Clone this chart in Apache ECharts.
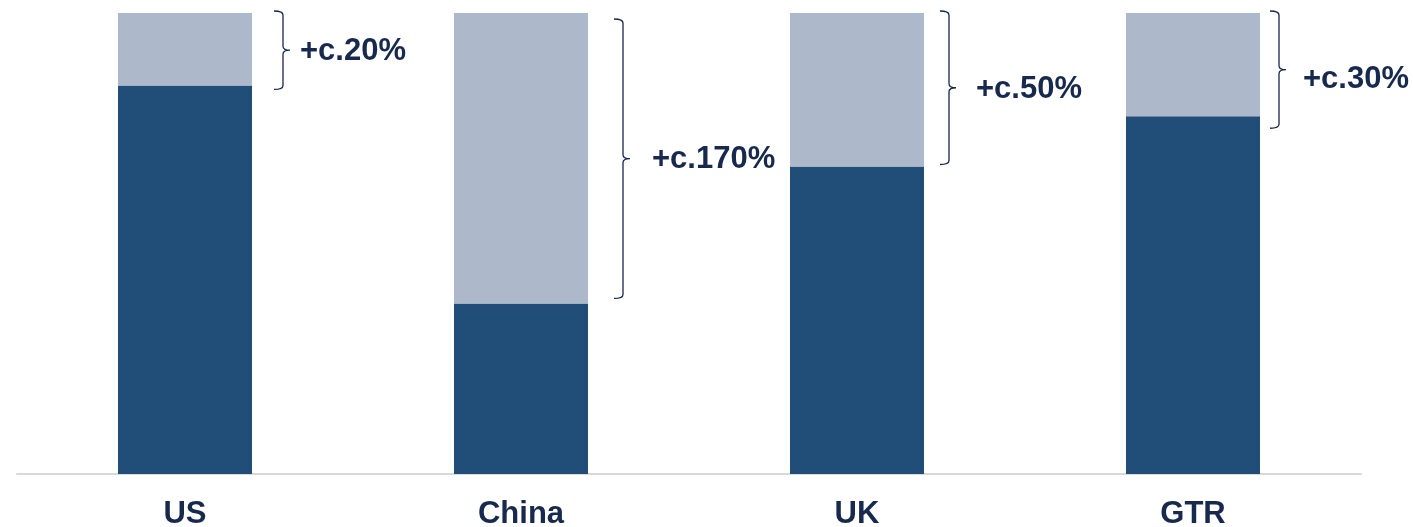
<!DOCTYPE html>
<html>
<head>
<meta charset="utf-8" />
<title>Uplift by market</title>
<script src="https://cdn.jsdelivr.net/npm/echarts@6/dist/echarts.min.js"></script>
<style>
  html, body { margin: 0; padding: 0; background: #fff; }
  #chart { width: 1413px; height: 527px; }
</style>
</head>
<body>
<div id="chart"></div>
<script>
// data
var categories = ['US', 'China', 'UK', 'GTR'];
var baseValues = [84.3, 37.0, 66.7, 77.6];
var upliftValues = [15.7, 63.0, 33.3, 22.4];
var upliftLabels = ['+c.20%', '+c.170%', '+c.50%', '+c.30%'];

var DARK = '#204E78';
var LIGHT = '#ADB9CA';
var INK = '#17294D';
var FONT = 'Liberation Sans, Arial, sans-serif';

// hand-placed braces: offset from bar centre, small top/bottom nudges (px),
// label offset from the brace line
var braceDx = [98, 102, 92, 86];
var braceTopDy = [-2, 6, -2, -2];
var braceBotDy = [4, -5, -2, 12];
var labelDx = [17, 29, 27, 24];
var labelDy = [0, 0, 1, 9];

var chart = echarts.init(document.getElementById('chart'));

var braceData = categories.map(function (c, i) {
  return [i, baseValues[i] + upliftValues[i], baseValues[i]];
});

function renderBrace(params, api) {
  var i = api.value(0);
  var top = api.coord([i, api.value(1)]);
  var bot = api.coord([i, api.value(2)]);
  var x = top[0] + braceDx[i];
  var y0 = top[1] + braceTopDy[i];
  var y1 = bot[1] + braceBotDy[i];
  var mid = (y0 + y1) / 2;
  var arm = 9, tip = 7, r = 4;
  var d = 'M' + (x - arm) + ' ' + y0 +
    ' Q' + x + ' ' + y0 + ' ' + x + ' ' + (y0 + r) +
    ' L' + x + ' ' + (mid - r) +
    ' Q' + x + ' ' + mid + ' ' + (x + tip) + ' ' + mid +
    ' M' + (x + tip) + ' ' + mid +
    ' Q' + x + ' ' + mid + ' ' + x + ' ' + (mid + r) +
    ' L' + x + ' ' + (y1 - r) +
    ' Q' + x + ' ' + y1 + ' ' + (x - arm) + ' ' + y1;
  return {
    type: 'group',
    children: [{
      type: 'path',
      shape: { pathData: d },
      style: { stroke: INK, fill: null, lineWidth: 1.3 }
    }, {
      type: 'text',
      style: {
        text: upliftLabels[i],
        x: x + labelDx[i],
        y: mid + 1 + labelDy[i],
        fill: INK,
        fontSize: 31,
        fontWeight: 'bold',
        fontFamily: FONT,
        align: 'left',
        verticalAlign: 'middle'
      }
    }]
  };
}

chart.setOption({
  backgroundColor: '#fff',
  animation: false,
  grid: { left: 17, right: 52, top: 13, bottom: 53, outerBoundsMode: 'none' },
  xAxis: {
    type: 'category',
    data: categories,
    axisLine: { lineStyle: { color: '#D9D9D9', width: 2 } },
    axisTick: { show: false },
    axisLabel: {
      color: INK,
      fontSize: 31,
      fontWeight: 'bold',
      fontFamily: FONT,
      margin: 25
    }
  },
  yAxis: {
    type: 'value',
    min: 0,
    max: 100,
    show: false,
    splitLine: { show: false }
  },
  series: [{
    type: 'bar',
    stack: 'total',
    barWidth: 134,
    itemStyle: { color: DARK },
    data: baseValues
  }, {
    type: 'bar',
    stack: 'total',
    barWidth: 134,
    itemStyle: { color: LIGHT },
    data: upliftValues
  }, {
    type: 'custom',
    renderItem: renderBrace,
    clip: false,
    silent: true,
    z: 5,
    data: braceData
  }]
});

window.onresize = function () {
  chart.resize();
};
</script>
</body>
</html>
